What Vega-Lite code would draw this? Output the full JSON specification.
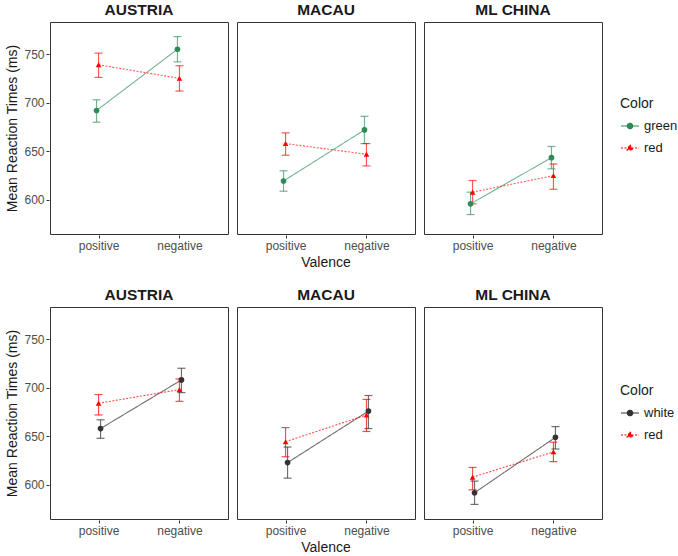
{
  "$schema": "https://vega.github.io/schema/vega-lite/v6.json",
  "padding": {"left": 5, "top": 2, "right": 0, "bottom": 0},
  "background": "white",
  "config": {
    "font": "Liberation Sans",
    "view": {"stroke": "#333333", "strokeWidth": 1},
    "axis": {"grid": false, "domain": false, "labelColor": "#4d4d4d", "labelFontSize": 12, "tickColor": "#333333", "tickSize": 3, "titleFontSize": 14, "titleFontWeight": "normal", "titleColor": "#1a1a1a", "labelPadding": 2},
    "header": {"labelFontSize": 15.5, "labelFontWeight": "bold", "labelColor": "#1a1a1a", "labelPadding": 3, "titleFontSize": 14, "titleFontWeight": "normal", "titleColor": "#1a1a1a", "titlePadding": -5},
    "legend": {"titleFontSize": 14, "titleFontWeight": "normal", "titleColor": "#1a1a1a", "labelFontSize": 13, "labelColor": "#1a1a1a", "rowPadding": 5, "symbolStrokeWidth": 1.2, "symbolOpacity": 1}
  },
  "datasets": {
    "top": [
      {"Country": "AUSTRIA", "Valence": "positive", "Color": "green", "mean": 692, "lo": 680, "hi": 703},
      {"Country": "AUSTRIA", "Valence": "negative", "Color": "green", "mean": 755, "lo": 742, "hi": 768},
      {"Country": "AUSTRIA", "Valence": "positive", "Color": "red", "mean": 739, "lo": 726, "hi": 751},
      {"Country": "AUSTRIA", "Valence": "negative", "Color": "red", "mean": 725, "lo": 712, "hi": 738},
      {"Country": "MACAU", "Valence": "positive", "Color": "green", "mean": 619.5, "lo": 609, "hi": 630},
      {"Country": "MACAU", "Valence": "negative", "Color": "green", "mean": 672, "lo": 658, "hi": 686},
      {"Country": "MACAU", "Valence": "positive", "Color": "red", "mean": 658, "lo": 646, "hi": 669},
      {"Country": "MACAU", "Valence": "negative", "Color": "red", "mean": 647, "lo": 635, "hi": 658},
      {"Country": "ML CHINA", "Valence": "positive", "Color": "green", "mean": 596, "lo": 585, "hi": 608},
      {"Country": "ML CHINA", "Valence": "negative", "Color": "green", "mean": 643.5, "lo": 632, "hi": 655},
      {"Country": "ML CHINA", "Valence": "positive", "Color": "red", "mean": 608, "lo": 596, "hi": 620},
      {"Country": "ML CHINA", "Valence": "negative", "Color": "red", "mean": 625, "lo": 611, "hi": 637}
    ],
    "bottom": [
      {"Country": "AUSTRIA", "Valence": "positive", "Color": "white", "mean": 658, "lo": 648, "hi": 667},
      {"Country": "AUSTRIA", "Valence": "negative", "Color": "white", "mean": 708, "lo": 695, "hi": 720},
      {"Country": "AUSTRIA", "Valence": "positive", "Color": "red", "mean": 684, "lo": 672, "hi": 693},
      {"Country": "AUSTRIA", "Valence": "negative", "Color": "red", "mean": 698, "lo": 686, "hi": 709},
      {"Country": "MACAU", "Valence": "positive", "Color": "white", "mean": 623, "lo": 607, "hi": 639},
      {"Country": "MACAU", "Valence": "negative", "Color": "white", "mean": 676, "lo": 658, "hi": 692},
      {"Country": "MACAU", "Valence": "positive", "Color": "red", "mean": 644.5, "lo": 629, "hi": 659},
      {"Country": "MACAU", "Valence": "negative", "Color": "red", "mean": 672, "lo": 655, "hi": 688},
      {"Country": "ML CHINA", "Valence": "positive", "Color": "white", "mean": 592, "lo": 580, "hi": 604},
      {"Country": "ML CHINA", "Valence": "negative", "Color": "white", "mean": 649, "lo": 637, "hi": 660},
      {"Country": "ML CHINA", "Valence": "positive", "Color": "red", "mean": 608, "lo": 595, "hi": 618},
      {"Country": "ML CHINA", "Valence": "negative", "Color": "red", "mean": 634, "lo": 624, "hi": 644}
    ]
  },
  "spacing": 17,
  "resolve": {"scale": {"color": "independent"}, "legend": {"color": "independent"}},
  "vconcat": [
    {
      "data": {"name": "top"},
      "facet": {"column": {"field": "Country", "type": "nominal", "sort": ["AUSTRIA", "MACAU", "ML CHINA"], "title": "Valence", "header": {"titleOrient": "bottom", "labelOrient": "top"}}},
      "spacing": 7,
      "spec": {
        "width": 178,
        "height": 212,
        "encoding": {
          "x": {"field": "Valence", "type": "nominal", "sort": ["positive", "negative"], "scale": {"type": "point", "padding": 0.6}, "axis": {"title": null, "labelAngle": 0}},
          "xOffset": {"field": "Color", "type": "nominal", "scale": {"type": "point", "domain": ["green", "red"], "range": [-2, 2], "padding": 0}},
          "color": {"field": "Color", "type": "nominal", "scale": {"domain": ["green", "red"], "range": ["#2E8B57", "#FF0000"]},
            "legend": {"title": "Color", "orient": "none", "legendX": 570, "legendY": 75, "symbolSize": 324,
              "encode": {"symbols": {"update": {
                "shape": {"signal": "datum.value === 'red' ? 'M-1,0H1M0,-0.36L0.32,0.2L-0.32,0.2Z' : 'M-1,0H1M0.3,0A0.3,0.3,0,1,1,-0.3,0A0.3,0.3,0,1,1,0.3,0Z'"},
                "fill": {"signal": "datum.value === 'red' ? '#FF0000' : '#2E8B57'"},
                "stroke": {"signal": "datum.value === 'red' ? '#FF0000' : '#2E8B57'"},
                "strokeDash": {"signal": "datum.value === 'red' ? [2, 1.5] : [1, 0]"},
                "opacity": {"value": 1},
                "fillOpacity": {"value": 1},
                "strokeOpacity": {"value": 1}
              }}}}}
        },
        "layer": [
          {"mark": {"type": "line", "strokeWidth": 1.1, "opacity": 0.65}, "encoding": {"y": {"field": "mean", "type": "quantitative", "scale": {"domain": [565, 783], "nice": false, "zero": false}, "axis": {"values": [600, 650, 700, 750], "title": "Mean Reaction Times (ms)"}}, "strokeDash": {"condition": {"test": "datum.Color === 'red'", "value": [2, 1.5]}, "value": [1, 0]}}},
          {"mark": {"type": "rule", "strokeWidth": 1.2, "opacity": 0.65}, "encoding": {"y": {"field": "lo", "type": "quantitative"}, "y2": {"field": "hi"}}},
          {"mark": {"type": "tick", "size": 8, "thickness": 1.2, "opacity": 0.65}, "encoding": {"y": {"field": "lo", "type": "quantitative"}}},
          {"mark": {"type": "tick", "size": 8, "thickness": 1.2, "opacity": 0.65}, "encoding": {"y": {"field": "hi", "type": "quantitative"}}},
          {"mark": {"type": "point", "filled": true, "size": 32, "opacity": 1}, "encoding": {"y": {"field": "mean", "type": "quantitative"}, "shape": {"condition": {"test": "datum.Color === 'red'", "value": "triangle-up"}, "value": "circle"}}}
        ]
      }
    },
    {
      "data": {"name": "bottom"},
      "facet": {"column": {"field": "Country", "type": "nominal", "sort": ["AUSTRIA", "MACAU", "ML CHINA"], "title": "Valence", "header": {"titleOrient": "bottom", "labelOrient": "top"}}},
      "spacing": 7,
      "spec": {
        "width": 178,
        "height": 212,
        "encoding": {
          "x": {"field": "Valence", "type": "nominal", "sort": ["positive", "negative"], "scale": {"type": "point", "padding": 0.6}, "axis": {"title": null, "labelAngle": 0}},
          "xOffset": {"field": "Color", "type": "nominal", "scale": {"type": "point", "domain": ["white", "red"], "range": [-2, 2], "padding": 0}},
          "color": {"field": "Color", "type": "nominal", "scale": {"domain": ["white", "red"], "range": ["#333333", "#FF0000"]},
            "legend": {"title": "Color", "orient": "none", "legendX": 570, "legendY": 77, "symbolSize": 324,
              "encode": {"symbols": {"update": {
                "shape": {"signal": "datum.value === 'red' ? 'M-1,0H1M0,-0.36L0.32,0.2L-0.32,0.2Z' : 'M-1,0H1M0.3,0A0.3,0.3,0,1,1,-0.3,0A0.3,0.3,0,1,1,0.3,0Z'"},
                "fill": {"signal": "datum.value === 'red' ? '#FF0000' : '#333333'"},
                "stroke": {"signal": "datum.value === 'red' ? '#FF0000' : '#333333'"},
                "strokeDash": {"signal": "datum.value === 'red' ? [2, 1.5] : [1, 0]"},
                "opacity": {"value": 1},
                "fillOpacity": {"value": 1},
                "strokeOpacity": {"value": 1}
              }}}}}
        },
        "layer": [
          {"mark": {"type": "line", "strokeWidth": 1.1, "opacity": 0.7}, "encoding": {"y": {"field": "mean", "type": "quantitative", "scale": {"domain": [565, 783], "nice": false, "zero": false}, "axis": {"values": [600, 650, 700, 750], "title": "Mean Reaction Times (ms)"}}, "strokeDash": {"condition": {"test": "datum.Color === 'red'", "value": [2, 1.5]}, "value": [1, 0]}}},
          {"mark": {"type": "rule", "strokeWidth": 1.2, "opacity": 0.7}, "encoding": {"y": {"field": "lo", "type": "quantitative"}, "y2": {"field": "hi"}}},
          {"mark": {"type": "tick", "size": 8, "thickness": 1.2, "opacity": 0.7}, "encoding": {"y": {"field": "lo", "type": "quantitative"}}},
          {"mark": {"type": "tick", "size": 8, "thickness": 1.2, "opacity": 0.7}, "encoding": {"y": {"field": "hi", "type": "quantitative"}}},
          {"mark": {"type": "point", "filled": true, "size": 32, "opacity": 1}, "encoding": {"y": {"field": "mean", "type": "quantitative"}, "shape": {"condition": {"test": "datum.Color === 'red'", "value": "triangle-up"}, "value": "circle"}}}
        ]
      }
    }
  ]
}
